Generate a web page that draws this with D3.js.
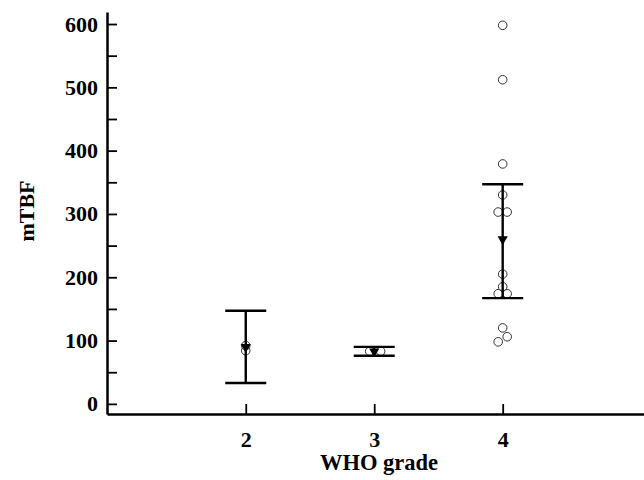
<!DOCTYPE html>
<html>
<head>
<meta charset="utf-8">
<script src="https://cdn.jsdelivr.net/npm/d3@7"></script>
<style>
  body { margin: 0; background: #fff; }
  text { font-family: "Liberation Serif", "Times New Roman", serif; font-weight: bold; }
</style>
</head>
<body>
<div id="chart"></div>
<script>
// group summaries (mean with interval)
var grades = [2, 3, 4];
var means = [90, 83, 260];
var ciLow = [33, 76, 167];
var ciHigh = [147, 90, 347];

// individual observations
var pointGrade = [2, 2, 3, 3, 4, 4, 4, 4, 4, 4, 4, 4, 4, 4, 4, 4, 4];
var pointValue = [92, 84, 83, 83, 598, 512, 379, 330, 303, 303, 205, 185, 174, 174, 120, 106, 98];
var pointJitter = [0, 0, -0.035, 0.05, 0, 0, 0, 0, -0.035, 0.035, 0, 0, -0.035, 0.035, 0, 0.035, -0.035];

var yTicks = d3.range(0, 601, 50);
var xTicks = [2, 3, 4];

var width = 644, height = 480;

var svg = d3.select("#chart")
  .append("svg")
  .attr("width", width)
  .attr("height", height);

var x = d3.scaleLinear()
  .domain([0.92, 5.1])
  .range([107, 644]);

var y = d3.scaleLinear()
  .domain([-16, 619])
  .range([414, 12]);

// y axis, ticks pointing inward
var yAxis = d3.axisLeft(y)
  .tickValues(yTicks)
  .tickSizeInner(-10)
  .tickSizeOuter(0)
  .tickPadding(9)
  .tickFormat(function(d) { return d % 100 === 0 ? d : ""; });

var gy = svg.append("g")
  .attr("transform", "translate(107,0)")
  .call(yAxis);
gy.select(".domain").attr("stroke-width", 2.5);
gy.selectAll(".tick line").attr("stroke-width", 1.8);
gy.selectAll(".tick text")
  .attr("font-size", 22)
  .attr("fill", "#000")
  .attr("font-family", "Liberation Serif");

// x axis
var xAxis = d3.axisBottom(x)
  .tickValues(xTicks)
  .tickSizeInner(-10)
  .tickSizeOuter(0)
  .tickPadding(17)
  .tickFormat(d3.format("d"));

var gx = svg.append("g")
  .attr("transform", "translate(0,414)")
  .call(xAxis);
gx.select(".domain").attr("stroke-width", 2.5);
gx.selectAll(".tick line").attr("stroke-width", 1.8);
gx.selectAll(".tick text")
  .attr("font-size", 22)
  .attr("fill", "#000")
  .attr("font-family", "Liberation Serif");

// axis titles
svg.append("text")
  .attr("x", 379)
  .attr("y", 470)
  .attr("text-anchor", "middle")
  .attr("font-size", 22.5)
  .text("WHO grade");

svg.append("text")
  .attr("transform", "translate(34,211) rotate(-90)")
  .attr("text-anchor", "middle")
  .attr("font-size", 22)
  .text("mTBF");

// points
var pts = pointValue.map(function(v, i) {
  return { g: pointGrade[i] + pointJitter[i], v: v };
});

svg.selectAll(".pt")
  .data(pts)
  .enter()
  .append("circle")
  .attr("class", "pt")
  .attr("cx", function(d) { return x(d.g); })
  .attr("cy", function(d) { return y(d.v); })
  .attr("r", 4.3)
  .attr("fill", "none")
  .attr("stroke", "#333")
  .attr("stroke-width", 1);

// error bars
var summary = grades.map(function(g, i) {
  return { g: g, m: means[i], lo: ciLow[i], hi: ciHigh[i] };
});

var capHalf = 20.5;
var eb = svg.selectAll(".eb")
  .data(summary)
  .enter()
  .append("g")
  .attr("class", "eb")
  .attr("stroke", "#000")
  .attr("stroke-width", 2.4);

eb.append("line")
  .attr("x1", function(d) { return x(d.g); })
  .attr("x2", function(d) { return x(d.g); })
  .attr("y1", function(d) { return y(d.lo); })
  .attr("y2", function(d) { return y(d.hi); });

eb.append("line")
  .attr("x1", function(d) { return x(d.g) - capHalf; })
  .attr("x2", function(d) { return x(d.g) + capHalf; })
  .attr("y1", function(d) { return y(d.hi); })
  .attr("y2", function(d) { return y(d.hi); });

eb.append("line")
  .attr("x1", function(d) { return x(d.g) - capHalf; })
  .attr("x2", function(d) { return x(d.g) + capHalf; })
  .attr("y1", function(d) { return y(d.lo); })
  .attr("y2", function(d) { return y(d.lo); });

// mean markers: downward triangles
svg.selectAll(".mean")
  .data(summary)
  .enter()
  .append("path")
  .attr("class", "mean")
  .attr("d", d3.symbol().type(d3.symbolTriangle).size(45))
  .attr("transform", function(d) {
    return "translate(" + x(d.g) + "," + y(d.m) + ") rotate(180)";
  })
  .attr("fill", "#000");
</script>
</body>
</html>
